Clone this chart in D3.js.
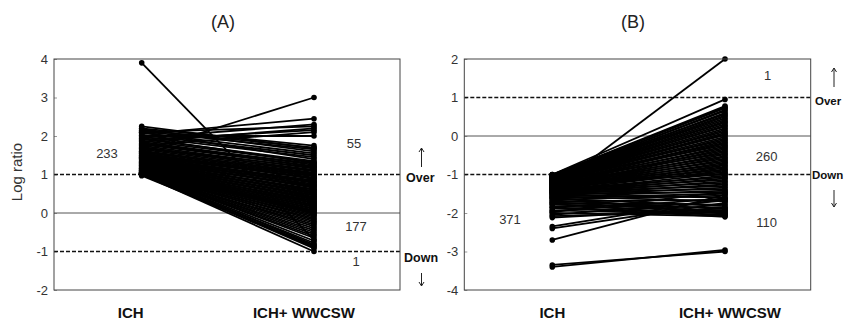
<!DOCTYPE html>
<html>
<head>
<meta charset="utf-8">
<script src="https://cdn.jsdelivr.net/npm/d3@7"></script>
<style>
  body { margin: 0; background: #fff; }
  svg { font-family: Arial, "Liberation Sans", sans-serif; }
</style>
</head>
<body>
<svg id="chart" width="845" height="325"></svg>
<script>
// categories on the x axis
const groups = ["ICH", "ICH+ WWCSW"];

// panel A: log ratio before (ICH) and after (ICH+ WWCSW)
const ichA = [3.9, 1.6, 2.05, 1.95, 2.1, 1.85, 1.9, 1.75, 2.0, 2.2, 2.15, 2.25, 2.12, 2.18, 2.08,
  2.02, 1.98, 2.1, 1.92, 1.88, 1.95, 1.8, 1.85, 1.78, 1.82, 1.7, 1.75, 1.68, 1.72, 1.65, 1.6,
  1.62, 1.58, 1.55, 1.52, 1.5, 1.48, 1.56, 1.45, 1.42, 1.47, 1.4, 1.38, 1.44, 1.36, 1.34, 1.4,
  1.32, 1.3, 1.35, 1.28, 1.26, 1.3, 1.24, 1.22, 1.27, 1.2, 1.18, 1.23, 1.16, 1.15, 1.2, 1.14,
  1.12, 1.17, 1.1, 1.13, 1.09, 1.11, 1.08, 1.06, 1.1, 1.05, 1.07, 1.04, 1.06, 1.03, 1.05, 1.02,
  1.04, 1.01, 1.03, 1.02, 1.0, 1.02, 1.01, 1.0, 1.03, 1.01, 1.0, 1.02, 1.0, 1.01, 1.0, 0.97];
const postA = [-0.7, 3.0, 2.45, 2.3, 2.25, 2.2, 2.15, 2.1, 2.0, 1.75, 1.7, 1.68, 1.65, 1.6, 1.55,
  1.5, 1.45, 1.4, 1.35, 1.32, 1.3, 1.28, 1.25, 1.22, 1.2, 1.18, 1.15, 1.12, 1.1, 1.08, 1.05,
  1.02, 1.0, 0.97, 0.95, 0.92, 0.9, 0.88, 0.85, 0.82, 0.8, 0.78, 0.75, 0.72, 0.7, 0.68, 0.65,
  0.62, 0.6, 0.57, 0.55, 0.52, 0.5, 0.47, 0.45, 0.42, 0.4, 0.37, 0.35, 0.32, 0.3, 0.27, 0.25,
  0.22, 0.2, 0.17, 0.15, 0.12, 0.1, 0.07, 0.05, 0.02, 0.0, -0.03, -0.06, -0.1, -0.14, -0.18, -0.22,
  -0.26, -0.3, -0.35, -0.4, -0.45, -0.5, -0.55, -0.6, -0.65, -0.72, -0.78, -0.82, -0.88, -0.92, -1.0, -0.85];

// panel B
const ichB = [-1.37, -1.0, -1.01, -1.03, -1.0, -1.04, -1.02, -1.06, -1.01, -1.05, -1.08, -1.03,
  -1.07, -1.1, -1.04, -1.09, -1.12, -1.06, -1.11, -1.14, -1.08, -1.13, -1.16, -1.1, -1.15,
  -1.18, -1.12, -1.2, -1.16, -1.22, -1.14, -1.24, -1.19, -1.26, -1.21, -1.28, -1.17, -1.3, -1.23,
  -1.32, -1.25, -1.34, -1.27, -1.36, -1.29, -1.38, -1.31, -1.4, -1.33, -1.42, -1.35, -1.44, -1.2,
  -1.46, -1.39, -1.48, -1.41, -1.5, -1.43, -1.52, -1.45, -1.55, -1.47, -1.58, -1.5, -1.61, -2.7,
  -1.65, -1.53, -2.35, -1.7, -1.95, -1.57, -2.4, -1.74, -2.05, -1.62, -1.78, -1.67, -1.83, -1.72,
  -1.88, -1.6, -1.93, -1.77, -2.0, -1.85, -2.08, -2.12, -1.98, -3.35, -3.4];
const postB = [2.0, 0.95, 0.78, 0.75, 0.72, 0.68, 0.65, 0.6, 0.57, 0.53, 0.5, 0.46,
  0.42, 0.38, 0.35, 0.31, 0.27, 0.24, 0.2, 0.16, 0.12, 0.08, 0.05, 0.02, -0.02,
  -0.06, -0.1, -0.13, -0.17, -0.2, -0.24, -0.27, -0.31, -0.34, -0.38, -0.41, -0.45, -0.48, -0.52,
  -0.55, -0.59, -0.62, -0.66, -0.69, -0.73, -0.76, -0.8, -0.83, -0.87, -0.9, -0.94, -0.97, -1.0,
  -1.03, -1.07, -1.1, -1.14, -1.18, -1.22, -1.26, -1.3, -1.34, -1.38, -1.42, -1.46, -1.5, -1.52,
  -1.55, -1.6, -1.63, -1.66, -1.62, -1.7, -1.74, -1.78, -1.68, -1.82, -1.86, -1.9, -1.93, -1.97,
  -2.0, -2.02, -2.04, -2.06, -2.08, -2.1, -1.96, -1.88, -1.45, -3.0, -2.96];

const ticksA = [-2, -1, 0, 1, 2, 3, 4];
const ticksB = [-4, -3, -2, -1, 0, 1, 2];
const countsA = ["233", "55", "177", "1"];
const countsB = ["371", "1", "260", "110"];

const svg = d3.select("#chart");

function drawPanel(p) {
  const g = svg.append("g");
  const y = d3.scaleLinear().domain(p.domain).range([290, 59]);
  const x = d3.scalePoint().domain(groups).range(p.xr);

  // title
  g.append("text").attr("x", p.titleX).attr("y", 28)
    .attr("text-anchor", "middle").attr("font-size", 18).attr("fill", "#222")
    .text(p.title);

  // y axis, ticks point inward
  const ax = g.append("g").attr("transform", `translate(${p.box[0]},0)`)
    .call(d3.axisLeft(y).tickValues(p.ticks).tickSize(-3).tickPadding(6).tickFormat(d => String(d)));
  ax.select(".domain").remove();
  ax.attr("font-family", "Arial, 'Liberation Sans', sans-serif");
  ax.selectAll("line").attr("stroke", "#999");
  ax.selectAll("text").attr("font-size", 13).attr("fill", "#333");

  // zero line and cut-off lines
  g.append("line").attr("x1", p.box[0]).attr("x2", p.box[1])
    .attr("y1", y(0)).attr("y2", y(0)).attr("stroke", "#555").attr("stroke-width", 1);
  [1, -1].forEach(v => {
    g.append("line").attr("x1", p.box[0]).attr("x2", p.box[1])
      .attr("y1", y(v)).attr("y2", y(v))
      .attr("stroke", "#111").attr("stroke-width", 1.5).attr("stroke-dasharray", "4,2");
  });

  // slope lines
  const line = d3.line().x(d => d[0]).y(d => d[1]);
  const pairs = p.pre.map((v, i) => [v, p.post[i]]);
  g.append("g").selectAll("path").data(pairs).join("path")
    .attr("d", d => line([[x(groups[0]), y(d[0])], [x(groups[1]), y(d[1])]]))
    .attr("fill", "none").attr("stroke", "#000").attr("stroke-width", 1.8);
  const dots = g.append("g");
  pairs.forEach(d => {
    dots.append("circle").attr("cx", x(groups[0])).attr("cy", y(d[0])).attr("r", 2.8).attr("fill", "#000");
    dots.append("circle").attr("cx", x(groups[1])).attr("cy", y(d[1])).attr("r", 2.8).attr("fill", "#000");
  });

  // box
  g.append("rect").attr("x", p.box[0]).attr("y", y(p.domain[1]))
    .attr("width", p.box[1] - p.box[0]).attr("height", y(p.domain[0]) - y(p.domain[1]))
    .attr("fill", "none").attr("stroke", "#444").attr("stroke-width", 1);

  // group labels
  groups.forEach((c, i) => {
    g.append("text").attr("x", x(c) + p.labelShift[i]).attr("y", 318)
      .attr("text-anchor", "middle").attr("font-size", 15).attr("font-weight", "bold")
      .attr("fill", "#111").text(c);
  });

  // count labels
  p.counts.forEach((t, i) => {
    g.append("text").attr("x", p.countPos[i][0]).attr("y", y(p.countPos[i][1]))
      .attr("text-anchor", "middle").attr("font-size", 13).attr("fill", "#333").text(t);
  });

  // Over / Down markers
  g.append("text").attr("x", p.overX).attr("y", y(1) + 7)
    .attr("font-size", p.markSize).attr("font-weight", "bold").attr("fill", "#111").text("Over");
  g.append("text").attr("x", p.downX).attr("y", y(-1) + p.downDy)
    .attr("font-size", p.markSize).attr("font-weight", "bold").attr("fill", "#111").text("Down");
  const arrow = (x0, y0, y1) => {
    g.append("line").attr("x1", x0).attr("x2", x0).attr("y1", y0).attr("y2", y1)
      .attr("stroke", "#222").attr("stroke-width", 1);
    const s = y1 < y0 ? 1 : -1;
    g.append("path").attr("d", `M${x0 - 2.5},${y1 + 4 * s}L${x0},${y1}L${x0 + 2.5},${y1 + 4 * s}`)
      .attr("fill", "none").attr("stroke", "#222").attr("stroke-width", 1);
  };
  arrow(p.arrowX, p.upArrow[1], p.upArrow[0]);
  arrow(p.arrowX, p.downArrow[0], p.downArrow[1]);

  return y;
}

drawPanel({
  title: "(A)", titleX: 223, domain: [-2, 4], ticks: ticksA,
  box: [54, 400], xr: [141.7, 314], pre: ichA, post: postA,
  labelShift: [-11, -10], counts: countsA,
  countPos: [[107, 1.42], [354, 1.68], [356, -0.47], [356, -1.38]],
  overX: 406, downX: 404, downDy: 10, arrowX: 421.5, markSize: 12.5,
  upArrow: [148, 167], downArrow: [273, 286]
});

drawPanel({
  title: "(B)", titleX: 633, domain: [-4, 2], ticks: ticksB,
  box: [464.3, 810.7], xr: [552.3, 725], pre: ichB, post: postB,
  labelShift: [0, 5], counts: countsB,
  countPos: [[510, -2.29], [767.7, 1.45], [766.7, -0.66], [766.7, -2.37]],
  overX: 815, downX: 812, downDy: 4, arrowX: 834, markSize: 11.5,
  upArrow: [68, 87], downArrow: [190, 207]
});

// y axis title
svg.append("text").attr("transform", "translate(22,172) rotate(-90)")
  .attr("text-anchor", "middle").attr("font-size", 15).attr("fill", "#333").text("Log ratio");
</script>
</body>
</html>
